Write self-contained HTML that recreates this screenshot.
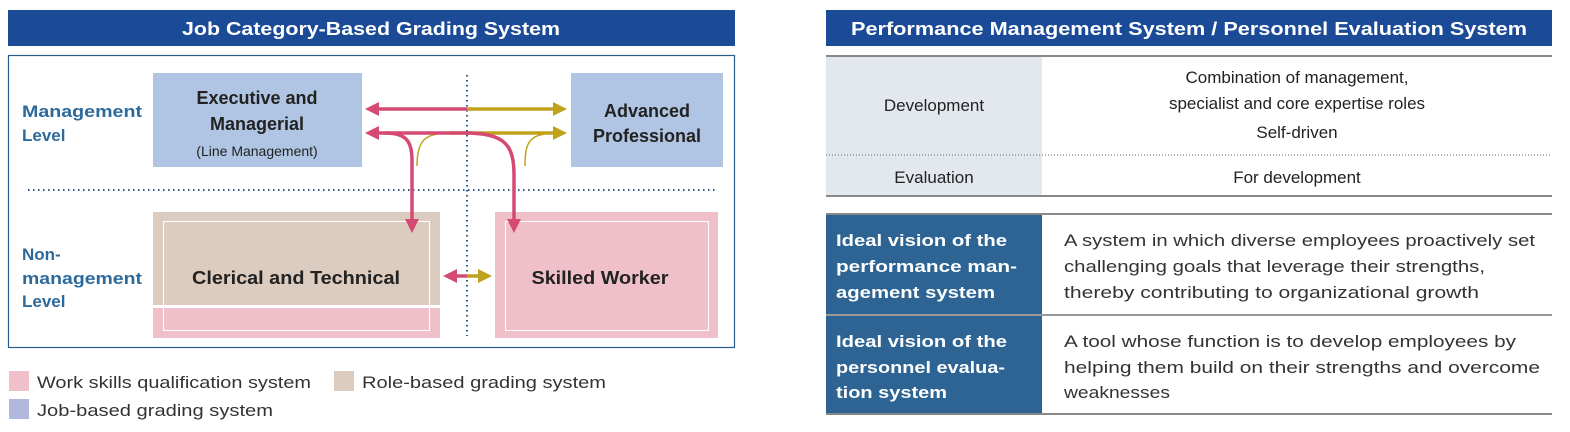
<!DOCTYPE html>
<html><head><meta charset="utf-8"><style>
html,body{margin:0;padding:0;background:#fff;width:1570px;height:432px;overflow:hidden}
svg{display:block;font-family:"Liberation Sans",sans-serif}
</style></head><body>
<svg width="1570" height="432" viewBox="0 0 1570 432" xmlns="http://www.w3.org/2000/svg">
<defs>
<marker id="pk" markerWidth="4" markerHeight="4" refX="2" refY="2" orient="auto" markerUnits="strokeWidth"><path d="M0,0 L4,2 L0,4 z" fill="#d44a72"/></marker>
<marker id="gd" markerWidth="4" markerHeight="4" refX="2" refY="2" orient="auto" markerUnits="strokeWidth"><path d="M0,0 L4,2 L0,4 z" fill="#c0a21c"/></marker>
</defs>
<rect x="8" y="10" width="727" height="36" fill="#1b4a97"/>
<text x="371" y="35" text-anchor="middle" fill="#fff" font-weight="bold" font-size="18" textLength="378" lengthAdjust="spacingAndGlyphs">Job Category-Based Grading System</text>
<rect x="8.5" y="55.5" width="726" height="292" fill="#fff" stroke="#2a5b8c" stroke-width="1.2"/>
<rect x="153" y="73" width="209" height="94" fill="#b0c4e3"/>
<rect x="571" y="73" width="152" height="94" fill="#b0c4e3"/>
<rect x="153" y="212" width="287" height="126" fill="#efc0ca"/>
<rect x="153" y="212" width="287" height="93" fill="#dcccbf"/>
<line x1="153" y1="306.5" x2="440" y2="306.5" stroke="#fff" stroke-width="3"/>
<rect x="163.5" y="221.5" width="266" height="109" fill="none" stroke="#fff" stroke-width="1"/>
<rect x="495" y="212" width="223" height="126" fill="#efc0ca"/>
<rect x="505.5" y="221.5" width="203" height="109" fill="none" stroke="#fff" stroke-width="1"/>
<line x1="28" y1="190" x2="718" y2="190" stroke="#2a5b8c" stroke-width="2" stroke-dasharray="1.5 3.5"/>
<line x1="467" y1="75" x2="467" y2="336" stroke="#2a5b8c" stroke-width="2" stroke-dasharray="1.5 3.5"/>
<path d="M525,166 C525,140 530,133 560,133" fill="none" stroke="#c0a21c" stroke-width="1.5"/>
<path d="M417,166 C417,140 425,133 450,133" fill="none" stroke="#c0a21c" stroke-width="1.5"/>
<line x1="467" y1="109" x2="560" y2="109" stroke="#c0a21c" stroke-width="3.5" marker-end="url(#gd)"/>
<line x1="467" y1="109" x2="372" y2="109" stroke="#d44a72" stroke-width="3.5" marker-end="url(#pk)"/>
<line x1="450" y1="133" x2="560" y2="133" stroke="#c0a21c" stroke-width="3.5" marker-end="url(#gd)"/>
<path d="M470,133 L372,133" fill="none" stroke="#d44a72" stroke-width="3.5" marker-end="url(#pk)"/>
<path d="M465,133 C505,133 514,145 514,175 L514,226" fill="none" stroke="#d44a72" stroke-width="3.5" marker-end="url(#pk)"/>
<path d="M385,133 C405,133 412,140 412,160 L412,226" fill="none" stroke="#d44a72" stroke-width="3.5" marker-end="url(#pk)"/>
<line x1="467" y1="276" x2="450" y2="276" stroke="#d44a72" stroke-width="3.5" marker-end="url(#pk)"/>
<line x1="467" y1="276" x2="485" y2="276" stroke="#c0a21c" stroke-width="3.5" marker-end="url(#gd)"/>
<g fill="#2d6a9c" font-weight="bold" font-size="17">
<text x="22" y="117" textLength="120" lengthAdjust="spacingAndGlyphs">Management</text>
<text x="22" y="141">Level</text>
<text x="22" y="260">Non-</text>
<text x="22" y="284" textLength="120" lengthAdjust="spacingAndGlyphs">management</text>
<text x="22" y="307">Level</text>
</g>
<g fill="#222" font-weight="bold" font-size="18" text-anchor="middle">
<text x="257" y="104">Executive and</text>
<text x="257" y="130">Managerial</text>
<text x="647" y="117">Advanced</text>
<text x="647" y="142">Professional</text>
<text x="296" y="284" textLength="208" lengthAdjust="spacingAndGlyphs">Clerical and Technical</text>
<text x="600" y="284" textLength="137" lengthAdjust="spacingAndGlyphs">Skilled Worker</text>
</g>
<text x="257" y="156" text-anchor="middle" font-size="14" fill="#222">(Line Management)</text>
<rect x="9" y="371" width="20" height="20" fill="#efc0ca"/>
<text x="37" y="388" font-size="17" fill="#333" textLength="274" lengthAdjust="spacingAndGlyphs">Work skills qualification system</text>
<rect x="334" y="371" width="20" height="20" fill="#dcccbf"/>
<text x="362" y="388" font-size="17" fill="#333" textLength="244" lengthAdjust="spacingAndGlyphs">Role-based grading system</text>
<rect x="9" y="399" width="20" height="20" fill="#b0b9dd"/>
<text x="37" y="416" font-size="17" fill="#333" textLength="236" lengthAdjust="spacingAndGlyphs">Job-based grading system</text>
<rect x="826" y="10" width="726" height="36" fill="#1b4a97"/>
<text x="1189" y="35" text-anchor="middle" fill="#fff" font-weight="bold" font-size="18" textLength="676" lengthAdjust="spacingAndGlyphs">Performance Management System / Personnel Evaluation System</text>
<rect x="826" y="56" width="216" height="140" fill="#e3e8ef"/>
<line x1="826" y1="56" x2="1552" y2="56" stroke="#888" stroke-width="2"/>
<line x1="826" y1="155" x2="1552" y2="155" stroke="#666" stroke-width="1" stroke-dasharray="1 2"/>
<line x1="826" y1="196" x2="1552" y2="196" stroke="#888" stroke-width="2"/>
<g font-size="17" fill="#222" text-anchor="middle">
<text x="934" y="111">Development</text>
<text x="934" y="183">Evaluation</text>
<text x="1297" y="83">Combination of management,</text>
<text x="1297" y="109">specialist and core expertise roles</text>
<text x="1297" y="138">Self-driven</text>
<text x="1297" y="183">For development</text>
</g>
<rect x="826" y="215" width="216" height="199" fill="#2d6493"/>
<line x1="826" y1="214" x2="1552" y2="214" stroke="#888" stroke-width="2"/>
<line x1="826" y1="315" x2="1552" y2="315" stroke="#999" stroke-width="2"/>
<line x1="826" y1="414" x2="1552" y2="414" stroke="#888" stroke-width="2"/>
<g font-size="17" fill="#fff" font-weight="bold">
<text x="836" y="246" textLength="171" lengthAdjust="spacingAndGlyphs">Ideal vision of the</text>
<text x="836" y="272" textLength="181" lengthAdjust="spacingAndGlyphs">performance man-</text>
<text x="836" y="298" textLength="159" lengthAdjust="spacingAndGlyphs">agement system</text>
<text x="836" y="347" textLength="171" lengthAdjust="spacingAndGlyphs">Ideal vision of the</text>
<text x="836" y="373" textLength="169" lengthAdjust="spacingAndGlyphs">personnel evalua-</text>
<text x="836" y="398" textLength="111" lengthAdjust="spacingAndGlyphs">tion system</text>
</g>
<g font-size="17" fill="#333">
<text x="1064" y="246" textLength="471" lengthAdjust="spacingAndGlyphs">A system in which diverse employees proactively set</text>
<text x="1064" y="272" textLength="421" lengthAdjust="spacingAndGlyphs">challenging goals that leverage their strengths,</text>
<text x="1064" y="298" textLength="415" lengthAdjust="spacingAndGlyphs">thereby contributing to organizational growth</text>
<text x="1064" y="347" textLength="452" lengthAdjust="spacingAndGlyphs">A tool whose function is to develop employees by</text>
<text x="1064" y="373" textLength="476" lengthAdjust="spacingAndGlyphs">helping them build on their strengths and overcome</text>
<text x="1064" y="398" textLength="106" lengthAdjust="spacingAndGlyphs">weaknesses</text>
</g>
</svg>
</body></html>
